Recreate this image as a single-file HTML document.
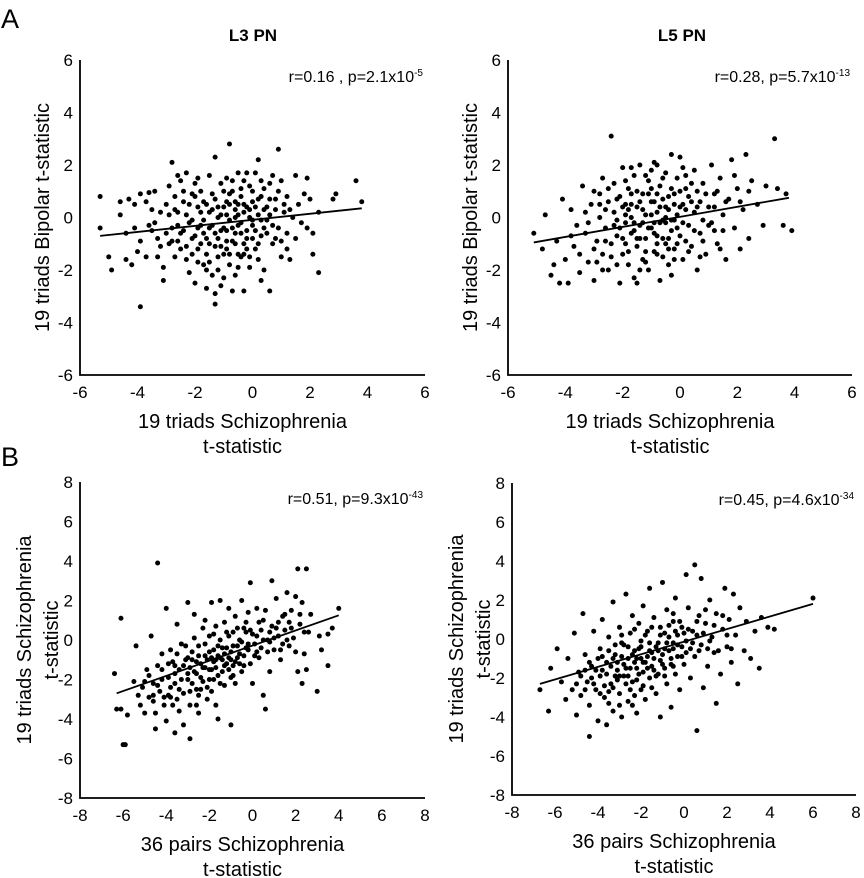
<!DOCTYPE html>
<html><head><meta charset="utf-8"><style>
body{margin:0;background:#fff;}
svg{display:block;font-family:"Liberation Sans",Arial,sans-serif;}
</style></head><body>
<svg id="fig" width="864" height="878" viewBox="0 0 864 878"></svg>
<script>
const xTicksA = [-6,-4,-2,0,2,4,6];
const yTicksA = [-6,-4,-2,0,2,4,6];
const xTicksB = [-8,-6,-4,-2,0,2,4,6,8];
const yTicksB = [-8,-6,-4,-2,0,2,4,6,8];
const fitA1X = [-5.3,3.8], fitA1Y = [-0.7,0.35];
const fitA2X = [-5.1,3.8], fitA2Y = [-0.95,0.75];
const fitB1X = [-6.3,4.0], fitB1Y = [-2.7,1.25];
const fitB2X = [-6.7,6.0], fitB2Y = [-2.3,1.8];
const pointsA1 = [[-5.3,0.8],[-5.3,-0.4],[-5,-1.5],[-4.9,-2.0],[-4.6,0.6],[-4.6,0.1],[-4.4,-0.6],[-4.4,-1.6],[-4.3,0.7],[-4.2,-1.8],[-4.1,0.5],[-4.1,-0.4],[-4,-1.3],[-3.9,-3.4],[-3.9,0.9],[-3.9,-0.9],[-3.7,0.6],[-3.7,-1.5],[-3.6,0.95],[-3.5,-0.5],[-3.5,0.3],[-3.4,1.0],[-3.4,-0.2],[-3.3,-1.5],[-3.2,0.2],[-3.1,-1.9],[-3.1,-2.4],[-3,-0.6],[-3,0.5],[-2.9,-1.0],[-2.9,1.2],[-2.8,2.1],[-2.8,-0.4],[-2.7,-1.5],[-2.7,0.8],[-2.6,-0.9],[-2.6,0.2],[-2.5,1.4],[-2.5,-1.2],[-2.4,-0.5],[-2.4,0.6],[-2.3,-1.6],[-2.3,1.7],[-2.2,-0.2],[-2.2,-2.1],[-2.1,0.9],[-2.1,-0.8],[-2.0,-2.5],[-2.0,1.3],[-1.9,-0.4],[-1.9,-1.2],[-1.8,0.2],[-1.8,1.0],[-1.7,-1.8],[-1.7,-0.6],[-1.6,-2.7],[-1.6,0.5],[-1.5,1.6],[-1.5,-1.0],[-1.4,-0.3],[-1.4,-2.2],[-1.3,2.3],[-1.3,-3.3],[-1.3,-2.9],[-1.3,0.7],[-1.2,-0.8],[-1.2,-1.5],[-1.1,0.1],[-1.1,1.3],[-1.0,-0.4],[-1.0,-2.3],[-0.9,0.6],[-0.9,-1.2],[-0.8,2.8],[-0.8,-0.1],[-0.8,-1.8],[-0.7,-2.8],[-0.7,1.0],[-0.6,-0.6],[-0.6,0.3],[-0.5,1.7],[-0.5,-1.4],[-0.4,-0.2],[-0.4,0.8],[-0.3,-2.8],[-0.3,-1.0],[-0.2,0.4],[-0.2,-0.5],[-0.1,1.2],[-0.1,-1.9],[0,0.6],[0,-0.3],[0.1,1.7],[0.1,-1.2],[0.2,2.2],[0.2,0.1],[0.3,-0.7],[0.4,1.1],[0.4,-2.0],[0.5,0.4],[0.5,-0.1],[0.6,-2.8],[0.6,1.3],[0.7,-1.0],[0.8,0.7],[0.9,2.6],[0.9,-0.4],[1.0,1.4],[1.0,-1.5],[1.1,0.2],[1.2,-0.6],[1.2,0.8],[1.3,-1.6],[1.4,0.0],[1.5,1.6],[1.5,-0.8],[1.6,0.5],[1.7,-0.2],[1.8,0.9],[1.9,1.5],[1.9,-0.4],[2.0,0.7],[2.1,-1.4],[2.1,-0.6],[2.3,-2.1],[2.3,0.2],[2.8,0.7],[2.9,0.9],[3.6,1.4],[3.8,0.6],
[-1.9,0.4],[-1.7,-0.1],[-1.5,-0.4],[-1.4,0.3],[-1.2,0.0],[-1.0,0.4],[-0.9,-0.5],[-0.7,-0.9],[-0.6,0.0],[-0.5,-0.3],[-0.4,-1.5],[-0.3,0.2],[-0.2,-1.2],[-0.1,0.0],[0.0,-0.8],[0.1,0.4],[0.2,-1.6],[0.3,0.8],[-2.6,-0.3],[-2.3,0.1],[-2.0,-0.7],[-1.8,-1.0],[-1.6,-1.4],[-1.1,-1.1],[-0.8,0.9],[-0.5,0.5],[-0.3,1.4],[0.4,-0.4],[0.6,0.1],[0.8,-0.8],[-3.3,-0.8],[-2.9,0.1],[-2.1,-1.4],[-1.3,-0.6],[-0.9,1.5],[0.7,1.6],[1.3,0.3],[-1.6,-2.0],[-0.6,-2.2],[0.3,-2.4],
[-2.8,-0.9],[-2.7,0.3],[-2.5,-0.6],[-2.4,1.0],[-2.3,-1.1],[-2.2,0.5],[-2.1,-0.1],[-2.0,0.8],[-1.9,-1.7],[-1.8,-0.3],[-1.7,0.6],[-1.6,-0.8],[-1.5,0.2],[-1.5,-1.7],[-1.4,0.9],[-1.3,-1.1],[-1.2,0.4],[-1.2,-2.0],[-1.1,-0.5],[-1.0,1.0],[-1.0,-1.4],[-0.9,0.1],[-0.9,-0.9],[-0.8,0.5],[-0.8,-1.4],[-0.7,-0.4],[-0.7,1.4],[-0.6,-1.0],[-0.6,0.6],[-0.5,-1.9],[-0.5,0.1],[-0.4,1.1],[-0.4,-0.6],[-0.3,-1.4],[-0.3,0.5],[-0.2,1.7],[-0.2,-0.8],[-0.1,0.3],[-0.1,-1.5],[0.0,1.0],[0.0,-0.1],[0.1,-0.5],[0.2,0.7],[0.2,-1.0],[0.3,1.4],[0.3,-0.1],[0.4,0.3],[0.5,-0.6],[0.6,0.7],[0.7,-0.3],[0.8,0.3],[0.9,1.0],[1.0,-0.9],[1.1,0.5],[1.2,-1.2],[-3.6,-0.3],[-3.2,-1.1],[-2.6,1.6],[-1.9,1.5],[-1.1,-2.6]];
const pointsA2 = [[-5.1,-0.6],[-4.8,-1.2],[-4.7,0.1],[-4.5,-2.2],[-4.3,-0.9],[-4.2,-2.5],[-4.1,0.7],[-4.0,-1.6],[-3.9,-2.5],[-3.8,0.3],[-3.7,-1.1],[-3.6,-0.3],[-3.5,-2.1],[-3.4,1.2],[-3.3,-0.6],[-3.2,-1.7],[-3.1,0.5],[-3.0,-2.4],[-3.0,1.0],[-2.9,-0.9],[-2.8,0.0],[-2.7,-1.4],[-2.7,1.5],[-2.6,-0.4],[-2.5,0.6],[-2.5,-2.0],[-2.4,3.1],[-2.4,-1.0],[-2.3,0.2],[-2.3,1.3],[-2.2,-0.7],[-2.1,-2.5],[-2.1,0.8],[-2.0,-1.4],[-2.0,1.9],[-1.9,-0.2],[-1.9,0.5],[-1.8,-1.8],[-1.8,1.1],[-1.7,-0.6],[-1.7,0.0],[-1.6,-2.3],[-1.6,1.6],[-1.5,-1.1],[-1.5,0.4],[-1.4,-0.3],[-1.4,2.0],[-1.3,-1.6],[-1.3,0.9],[-1.2,-0.8],[-1.2,0.1],[-1.1,1.4],[-1.1,-2.0],[-1.0,-0.4],[-1.0,0.6],[-0.9,-1.3],[-0.9,2.1],[-0.8,0.2],[-0.8,-0.7],[-0.7,1.2],[-0.7,-2.4],[-0.6,-0.1],[-0.6,0.7],[-0.5,-1.0],[-0.5,1.7],[-0.4,0.3],[-0.4,-1.8],[-0.3,-0.5],[-0.3,2.4],[-0.2,0.9],[-0.2,-1.2],[-0.1,0.1],[-0.1,1.5],[0.0,-0.7],[0.0,2.3],[0.1,0.5],[0.1,-1.6],[0.2,1.1],[0.3,-0.3],[0.3,0.8],[0.4,-1.1],[0.5,1.8],[0.5,0.2],[0.6,-2.0],[0.7,0.6],[0.7,-0.6],[0.8,1.3],[0.9,-1.4],[1.0,0.4],[1.1,2.0],[1.1,-0.2],[1.2,0.9],[1.3,-1.0],[1.4,1.5],[1.5,0.1],[1.6,-1.6],[1.7,0.7],[1.8,2.2],[1.9,-0.4],[2.0,1.1],[2.1,-1.2],[2.2,0.3],[2.3,2.4],[2.4,-0.8],[2.5,1.4],[2.7,0.5],[2.9,-0.3],[3.0,1.2],[3.3,3.0],[3.4,1.1],[3.6,-0.3],[3.7,0.9],[3.9,-0.5],
[-2.2,-0.1],[-2.0,0.4],[-1.9,-1.0],[-1.7,0.9],[-1.6,-0.5],[-1.4,0.6],[-1.3,-0.2],[-1.2,-1.3],[-1.0,0.1],[-0.9,-0.6],[-0.8,0.9],[-0.7,-0.2],[-0.6,-1.5],[-0.5,0.4],[-0.4,-0.8],[-0.3,1.1],[-0.2,-0.1],[0.0,0.4],[0.2,-0.9],[0.4,0.6],[-2.6,0.3],[-2.4,-1.5],[-2.1,-0.4],[-1.8,0.3],[-1.5,-0.8],[-1.1,0.9],[-0.8,-1.0],[-0.5,-0.2],[-0.1,-1.0],[0.6,1.0],[-2.8,0.9],[-3.2,-0.2],[-1.4,-2.0],[-0.3,-2.2],[0.8,-0.1],[1.2,-0.5],[-1.9,1.4],[-1.0,1.8],[0.2,1.6],[-2.9,-1.7],
[-3.3,0.2],[-3.0,-1.2],[-2.8,0.5],[-2.6,-0.9],[-2.5,1.1],[-2.3,-0.3],[-2.2,0.7],[-2.0,-0.8],[-1.9,0.1],[-1.8,-1.3],[-1.7,0.5],[-1.6,-0.2],[-1.5,1.0],[-1.4,-0.8],[-1.3,0.3],[-1.2,-1.7],[-1.1,-0.4],[-1.0,1.1],[-0.9,-0.2],[-0.9,0.6],[-0.8,-1.4],[-0.7,0.4],[-0.6,-0.8],[-0.6,1.5],[-0.5,0.0],[-0.4,-1.2],[-0.4,0.8],[-0.3,-0.1],[-0.2,0.5],[-0.2,-1.6],[-0.1,-0.4],[0.0,1.0],[0.1,-0.2],[0.2,0.3],[0.3,-1.3],[0.4,1.3],[0.5,-0.5],[0.6,0.4],[0.8,-0.9],[0.9,0.9],[1.0,-0.3],[1.2,0.4],[1.3,1.0],[1.5,-0.5],[1.6,0.6],[-2.7,-2.0],[-2.2,-1.8],[-1.7,1.9],[-1.2,1.6],[-0.8,2.0],[0.1,1.9],[0.7,-1.5],[1.4,-1.2],[2.1,0.6],[2.4,1.0],[-3.5,-1.4],[-3.8,-0.7],[-4.4,-1.8],[1.9,1.6],[-1.5,-2.5]];
const pointsB1 = [[-6.4,-1.7],[-6.3,-3.5],[-6.1,-3.5],[-6.1,1.1],[-6.0,-5.3],[-5.9,-5.3],[-5.8,-3.8],[-5.5,-2.1],[-5.4,-0.3],[-5.3,-2.8],[-5.2,-3.3],[-5.1,-2.4],[-5.0,-3.7],[-4.9,-1.5],[-4.8,-2.9],[-4.7,0.2],[-4.6,-2.2],[-4.5,-3.7],[-4.5,-4.5],[-4.4,3.9],[-4.4,-1.3],[-4.3,-2.6],[-4.2,-0.7],[-4.1,-3.3],[-4.0,-4.1],[-4.0,1.6],[-3.9,-1.9],[-3.8,-0.5],[-3.8,-2.9],[-3.7,-1.1],[-3.6,-4.7],[-3.6,-2.2],[-3.5,0.8],[-3.4,-3.6],[-3.4,-1.5],[-3.3,-0.2],[-3.2,-2.7],[-3.2,-4.3],[-3.1,-1.0],[-3.0,1.9],[-3.0,-2.0],[-2.9,-5.0],[-2.9,-3.3],[-2.8,-0.6],[-2.7,-1.6],[-2.7,1.3],[-2.6,-2.5],[-2.5,-0.3],[-2.5,-3.7],[-2.4,-1.2],[-2.3,0.6],[-2.3,-2.1],[-2.2,-0.8],[-2.2,1.0],[-2.1,-3.0],[-2.0,-1.5],[-2.0,0.2],[-1.9,-2.6],[-1.9,1.9],[-1.8,-0.5],[-1.8,-1.1],[-1.7,0.7],[-1.7,-3.3],[-1.6,-4.0],[-1.6,-1.8],[-1.5,0.0],[-1.5,2.0],[-1.4,-1.0],[-1.3,-2.3],[-1.3,0.9],[-1.2,-0.4],[-1.1,-1.5],[-1.1,1.6],[-1.0,-4.3],[-1.0,-0.6],[-0.9,0.4],[-0.8,-2.2],[-0.8,1.2],[-0.7,-0.9],[-0.6,0.0],[-0.5,-1.6],[-0.5,2.0],[-0.4,0.6],[-0.3,-0.4],[-0.2,1.4],[-0.1,2.9],[-0.1,-1.2],[0.0,0.3],[0.0,-2.2],[0.1,-0.2],[0.2,1.6],[0.3,-0.9],[0.4,0.5],[0.5,-2.8],[0.6,-3.5],[0.6,1.5],[0.7,0.0],[0.8,-1.6],[0.9,3.0],[0.9,0.7],[1.0,-0.5],[1.1,2.1],[1.2,0.2],[1.3,-1.0],[1.4,1.2],[1.5,0.5],[1.6,2.4],[1.7,-0.3],[1.8,1.5],[1.9,0.1],[2.0,2.2],[2.1,3.6],[2.1,-1.6],[2.2,0.8],[2.3,-2.2],[2.3,1.9],[2.4,-0.7],[2.5,3.6],[2.5,-1.5],[2.7,1.3],[3.0,-2.6],[3.1,0.2],[3.2,-0.5],[3.5,-1.3],[3.5,0.3],[3.7,0.6],[4.0,1.6],
[-3.6,-1.3],[-3.3,-2.0],[-3.0,-0.9],[-2.8,-2.2],[-2.6,-1.1],[-2.4,-1.9],[-2.2,-1.4],[-2.0,-0.6],[-1.9,-1.5],[-1.7,-1.0],[-1.6,-0.3],[-1.4,-1.6],[-1.3,-0.7],[-1.2,-1.2],[-1.0,-1.0],[-0.9,-1.8],[-0.7,-0.3],[-0.6,-1.2],[-0.4,-0.8],[-0.2,-0.5],[0.2,-0.6],[0.5,0.0],[0.8,-0.1],[1.1,0.6],[1.4,-0.2],[-4.2,-2.0],[-3.9,-2.8],[-2.9,-1.4],[-2.1,-2.4],[-1.5,-0.9],[-1.1,0.2],[-0.3,0.4],[0.3,0.9],[-4.6,-3.1],[-3.5,-3.0],[-2.5,-2.8],[-1.8,-2.0],[-0.9,-1.3],[1.7,0.9],[2.6,0.4],
[-5.0,-2.1],[-4.8,-1.8],[-4.6,-2.8],[-4.4,-2.3],[-4.2,-1.5],[-4.1,-2.9],[-3.9,-1.2],[-3.8,-2.4],[-3.6,-1.7],[-3.5,-0.7],[-3.4,-2.5],[-3.2,-1.3],[-3.1,-0.3],[-3.0,-1.7],[-2.9,-2.6],[-2.8,-1.0],[-2.7,0.1],[-2.6,-1.7],[-2.5,-0.8],[-2.4,-2.5],[-2.3,-1.4],[-2.2,-0.2],[-2.1,-1.0],[-2.0,-2.0],[-1.9,-0.9],[-1.8,0.3],[-1.7,-1.4],[-1.6,-0.8],[-1.5,-2.2],[-1.4,-0.4],[-1.3,-1.3],[-1.2,0.4],[-1.1,-0.9],[-1.0,-1.9],[-0.9,-0.3],[-0.8,-1.1],[-0.7,0.6],[-0.6,-0.7],[-0.5,-0.1],[-0.4,-1.3],[-0.3,0.9],[-0.2,-0.2],[-0.1,0.5],[0.1,-0.8],[0.2,0.2],[0.4,-0.4],[0.5,1.0],[0.7,-0.6],[0.8,0.4],[1.0,0.1],[1.2,0.9],[1.3,-0.5],[1.5,1.3],[1.6,0.0],[1.8,0.6],[2.0,-0.6],[2.2,1.3],[2.4,0.4],[-3.7,-3.3],[-2.6,-3.3]];
const pointsB2 = [[-6.7,-2.6],[-6.3,-3.7],[-6.2,-1.5],[-5.9,-0.5],[-5.7,-2.2],[-5.5,-3.1],[-5.4,-1.0],[-5.2,-2.6],[-5.1,0.3],[-5.0,-3.9],[-4.9,-1.7],[-4.8,-2.9],[-4.7,1.3],[-4.6,-0.8],[-4.5,-2.2],[-4.4,-5.0],[-4.4,-3.4],[-4.3,-1.4],[-4.2,0.4],[-4.1,-2.6],[-4.0,-4.2],[-3.9,-0.5],[-3.9,-1.9],[-3.8,1.0],[-3.7,-3.0],[-3.6,-4.4],[-3.6,-1.2],[-3.5,0.1],[-3.4,-2.3],[-3.3,-3.7],[-3.3,1.9],[-3.2,-0.8],[-3.1,-1.6],[-3.0,0.6],[-3.0,-2.8],[-2.9,-4.0],[-2.8,-0.3],[-2.8,-1.9],[-2.7,2.3],[-2.6,-1.0],[-2.6,-3.2],[-2.5,0.3],[-2.4,-2.2],[-2.4,1.2],[-2.3,-0.6],[-2.2,-1.5],[-2.2,-3.8],[-2.1,0.8],[-2.0,-2.6],[-2.0,-0.1],[-1.9,1.7],[-1.8,-1.2],[-1.8,-3.1],[-1.7,0.4],[-1.6,-2.0],[-1.6,2.6],[-1.5,-0.7],[-1.4,-1.6],[-1.4,1.1],[-1.3,-2.8],[-1.2,-0.2],[-1.1,-4.0],[-1.1,0.6],[-1.0,-1.3],[-1.0,2.9],[-0.9,-0.5],[-0.8,-2.3],[-0.8,1.5],[-0.7,0.1],[-0.6,-1.0],[-0.6,-3.5],[-0.5,0.9],[-0.4,-1.8],[-0.4,2.1],[-0.3,-0.3],[-0.2,-2.6],[-0.1,0.6],[0.0,-1.3],[0.1,3.3],[0.1,-0.1],[0.2,1.6],[0.3,-2.0],[0.4,0.4],[0.5,3.8],[0.5,-0.9],[0.6,-4.7],[0.7,1.2],[0.8,3.1],[0.8,-0.3],[0.9,-2.5],[1.0,0.8],[1.1,-1.4],[1.2,2.0],[1.3,0.1],[1.4,-0.7],[1.5,-3.3],[1.5,1.3],[1.7,-1.8],[1.8,0.5],[1.9,2.6],[2.0,-0.4],[2.1,1.0],[2.2,-1.2],[2.3,2.3],[2.4,0.2],[2.5,-2.3],[2.6,1.6],[2.8,-0.6],[2.9,0.9],[3.1,-1.0],[3.3,0.4],[3.5,-1.5],[3.6,1.1],[3.9,0.6],[4.2,0.5],[6.0,2.1],
[-3.8,-1.6],[-3.5,-2.7],[-3.3,-1.0],[-3.1,-2.1],[-2.9,-0.9],[-2.7,-1.5],[-2.5,-2.6],[-2.3,-1.2],[-2.1,-0.5],[-1.9,-1.7],[-1.7,-0.9],[-1.5,-1.4],[-1.3,-0.4],[-1.1,-1.1],[-0.9,-1.9],[-0.7,-0.6],[-0.5,-1.4],[-0.3,0.2],[-0.1,-0.9],[0.3,-0.5],[-4.3,-2.0],[-4.0,-1.0],[-3.7,-2.4],[-3.2,-1.9],[-2.9,-0.2],[-2.6,-1.9],[-2.2,-2.1],[-2.0,-1.0],[-1.6,-0.2],[-1.2,-1.8],[-0.9,0.3],[-0.5,-0.5],[0.0,0.3],[0.6,0.2],[1.1,-0.5],[-3.0,-3.4],[-2.3,-2.9],[-1.5,-2.5],[-4.6,-1.6],[-5.0,-2.3],
[-4.8,-1.9],[-4.6,-2.6],[-4.4,-1.2],[-4.2,-2.3],[-4.1,-1.6],[-3.9,-2.8],[-3.8,-0.9],[-3.6,-1.8],[-3.5,-0.6],[-3.4,-1.4],[-3.3,-2.5],[-3.2,-0.3],[-3.1,-1.2],[-3.0,-1.9],[-2.9,0.2],[-2.8,-1.3],[-2.7,-2.3],[-2.6,-0.4],[-2.5,-1.5],[-2.4,-0.8],[-2.3,0.5],[-2.2,-1.0],[-2.1,-1.8],[-2.0,-0.4],[-1.9,-1.2],[-1.8,0.2],[-1.7,-1.5],[-1.6,-0.6],[-1.5,0.6],[-1.4,-1.0],[-1.3,-1.9],[-1.2,-0.6],[-1.1,0.2],[-1.0,-0.8],[-0.9,-1.5],[-0.8,-0.2],[-0.7,0.7],[-0.6,-1.3],[-0.5,-0.2],[-0.4,0.4],[-0.3,-0.9],[-0.2,0.9],[-0.1,-0.4],[0.1,-0.7],[0.2,0.5],[0.4,-0.2],[0.6,0.9],[0.7,-0.6],[0.9,0.3],[1.0,1.5],[1.2,-0.1],[1.4,0.7],[1.6,-0.6],[1.8,1.2],[2.0,0.2],[2.2,-0.5],[-2.4,-3.4],[-1.9,-2.4],[-3.5,-3.3],[-0.5,1.3]];

const NS='http://www.w3.org/2000/svg';
const svg=document.getElementById('fig');
function mk(tag,attrs,parent){const e=document.createElementNS(NS,tag);for(const k in attrs)e.setAttribute(k,attrs[k]);(parent||svg).appendChild(e);return e;}
function txt(s,attrs,parent){const e=mk('text',attrs,parent);e.textContent=s;return e;}

function panel(id,box,dom,xt,yt,pts,fx,fy,rText,pExp,yTitle,xTitle){
  const g=mk('g',{});
  
  
  const sx=v=>box.l+(v-dom.x0)/(dom.x1-dom.x0)*(box.r-box.l);
  const sy=v=>box.b-(v-dom.y0)/(dom.y1-dom.y0)*(box.b-box.t);
  const ax=mk('path',{d:`M${box.l},${box.t} V${box.b} H${box.r}`,fill:'none',stroke:'#000','stroke-width':1.8},g);
  
  
  xt.forEach(v=>{const t=txt(String(v),{x:sx(v),y:box.b+23,'text-anchor':'middle','font-size':17,fill:'#000'},g);
    
    });
  yt.forEach(v=>{const t=txt(String(v),{x:box.l-7,y:sy(v)+6,'text-anchor':'end','font-size':17,fill:'#000'},g);
    
    });
  pts.forEach(p=>{const c=mk('circle',{cx:sx(p[0]),cy:sy(p[1]),r:2.5,fill:'#000'},g);
    
    });
  const ln=mk('line',{x1:sx(fx[0]),y1:sy(fy[0]),x2:sx(fx[1]),y2:sy(fy[1]),stroke:'#000','stroke-width':1.8},g);
  
  
  const an=mk('text',{x:box.r-2,y:box.t+22,'text-anchor':'end','font-size':16,fill:'#000'},g);
  
  
  an.appendChild(document.createTextNode(rText));
  const sp=document.createElementNS(NS,'tspan');sp.setAttribute('dy',-6);sp.setAttribute('font-size',10);sp.textContent=pExp;an.appendChild(sp);
  const cx=(box.l+box.r)/2-10;
  xTitle.forEach((s,i)=>{const t=txt(s,{x:cx,y:box.b+53+i*25,'text-anchor':'middle','font-size':20,fill:'#000'},g);
    
    });
  const cy=(box.t+box.b)/2;
  yTitle.forEach((s,i)=>{const x=yTitle.length===1?box.l-38:box.l-56+i*27;
    const t=txt(s,{x:x,y:cy,'text-anchor':'middle','font-size':20,fill:'#000',transform:`rotate(-90 ${x} ${cy})`,dy:7},g);
    
    });
}
const dA={x0:-6,x1:6,y0:-6,y1:6}, dB={x0:-8,x1:8,y0:-8,y1:8};
panel('panel-a-l3',{l:80,r:425,t:60,b:375},dA,xTicksA,yTicksA,pointsA1,fitA1X,fitA1Y,'r=0.16 , p=2.1x10','-5',['19 triads Bipolar t-statistic'],['19 triads Schizophrenia','t-statistic']);
panel('panel-a-l5',{l:508,r:852,t:60,b:375},dA,xTicksA,yTicksA,pointsA2,fitA2X,fitA2Y,'r=0.28, p=5.7x10','-13',['19 triads Bipolar t-statistic'],['19 triads Schizophrenia','t-statistic']);
panel('panel-b-l3',{l:80,r:425,t:482,b:798},dB,xTicksB,yTicksB,pointsB1,fitB1X,fitB1Y,'r=0.51, p=9.3x10','-43',['19 triads Schizophrenia','t-statistic'],['36 pairs Schizophrenia','t-statistic']);
panel('panel-b-l5',{l:512,r:856,t:483,b:795},dB,xTicksB,yTicksB,pointsB2,fitB2X,fitB2Y,'r=0.45, p=4.6x10','-34',['19 triads Schizophrenia','t-statistic'],['36 pairs Schizophrenia','t-statistic']);
let t;
t=txt('A',{x:1,y:28,'font-size':27,fill:'#000'});


t=txt('B',{x:1,y:466,'font-size':27,fill:'#000'});


t=txt('L3 PN',{x:253,y:41,'font-size':17,'font-weight':'bold','text-anchor':'middle',fill:'#000'});


t=txt('L5 PN',{x:682,y:41,'font-size':17,'font-weight':'bold','text-anchor':'middle',fill:'#000'});


</script>
</body></html>
